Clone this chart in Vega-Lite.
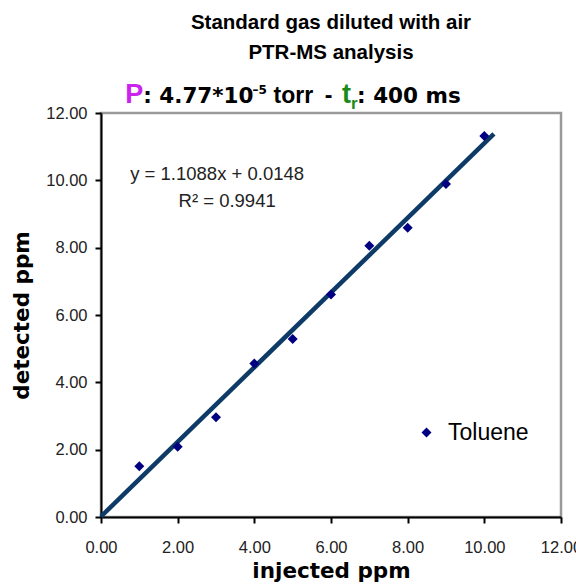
{
  "$schema": "https://vega.github.io/schema/vega-lite/v6.json",
  "autosize": {"type": "none"},
  "width": 460,
  "height": 404,
  "padding": {"left": 101, "top": 113, "right": 15, "bottom": 67},
  "background": "white",
  "title": {
    "text": ["Standard gas diluted with air", "PTR-MS analysis"],
    "font": "Liberation Sans",
    "fontSize": 20.5,
    "fontWeight": "bold",
    "color": "#000000",
    "anchor": "middle",
    "lineHeight": 30,
    "offset": 17
  },
  "config": {
    "view": {"stroke": "#999999", "strokeWidth": 2.5},
    "font": "Liberation Sans",
    "axis": {
      "grid": false,
      "domainColor": "#000000",
      "domainWidth": 2,
      "tickColor": "#000000",
      "tickWidth": 2,
      "tickSize": 6,
      "labelFont": "Liberation Sans",
      "labelFontSize": 16.5,
      "labelColor": "#222222",
      "labelFlush": false,
      "titleFont": "DejaVu Sans",
      "titleFontSize": 21.5,
      "titleFontWeight": "bold",
      "titleColor": "#000000"
    }
  },
  "layer": [
    {
      "data": {"values": [{"injected": 0, "detected": 0.0148}, {"injected": 10.25, "detected": 11.38}]},
      "mark": {"type": "line", "color": "#0d3a66", "strokeWidth": 4.5, "clip": false},
      "encoding": {
        "x": {"field": "injected", "type": "quantitative"},
        "y": {"field": "detected", "type": "quantitative"}
      }
    },
    {
      "data": {"values": [
        {"injected": 1, "detected": 1.51, "series": "Toluene"},
        {"injected": 2, "detected": 2.09, "series": "Toluene"},
        {"injected": 3, "detected": 2.96, "series": "Toluene"},
        {"injected": 4, "detected": 4.56, "series": "Toluene"},
        {"injected": 5, "detected": 5.29, "series": "Toluene"},
        {"injected": 6, "detected": 6.61, "series": "Toluene"},
        {"injected": 7, "detected": 8.06, "series": "Toluene"},
        {"injected": 8, "detected": 8.59, "series": "Toluene"},
        {"injected": 9, "detected": 9.89, "series": "Toluene"},
        {"injected": 10, "detected": 11.32, "series": "Toluene"}
      ]},
      "mark": {"type": "point", "shape": "diamond", "filled": true, "size": 100, "opacity": 1},
      "encoding": {
        "x": {
          "field": "injected", "type": "quantitative",
          "scale": {"domain": [0, 12], "nice": false},
          "axis": {"values": [0, 2, 4, 6, 8, 10, 12], "format": ".2f", "title": "injected ppm", "labelPadding": 16, "titlePadding": 5}
        },
        "y": {
          "field": "detected", "type": "quantitative",
          "scale": {"domain": [0, 12], "nice": false},
          "axis": {"values": [0, 2, 4, 6, 8, 10, 12], "format": ".2f", "title": "detected ppm", "labelPadding": 8, "titlePadding": 12}
        },
        "color": {
          "field": "series", "type": "nominal",
          "scale": {"range": ["#000080"]},
          "legend": {
            "title": null,
            "orient": "none",
            "legendX": 314,
            "legendY": 308,
            "padding": 0,
            "symbolType": "diamond",
            "symbolSize": 100,
            "labelFont": "Liberation Sans",
            "labelFontSize": 23,
            "labelColor": "#000000",
            "labelOffset": 10
          }
        }
      }
    },
    {
      "data": {"values": [
        {"x": 3.03, "y": 10.0, "label": "y = 1.1088x + 0.0148"},
        {"x": 3.29, "y": 9.2, "label": "R² = 0.9941"}
      ]},
      "mark": {"type": "text", "font": "Liberation Sans", "fontSize": 18.5, "color": "#222222", "align": "center", "baseline": "alphabetic"},
      "encoding": {
        "x": {"field": "x", "type": "quantitative"},
        "y": {"field": "y", "type": "quantitative"},
        "text": {"field": "label"}
      }
    },
    {
      "data": {"values": [{"x": 0.63, "y": 12.3, "label": "P"}]},
      "mark": {"type": "text", "font": "Liberation Sans", "fontSize": 27, "fontWeight": "bold", "color": "#cc22ee", "align": "left", "baseline": "alphabetic", "clip": false},
      "encoding": {
        "x": {"field": "x", "type": "quantitative"},
        "y": {"field": "y", "type": "quantitative"},
        "text": {"field": "label"}
      }
    },
    {
      "data": {"values": [
        {"x": 1.1, "y": 12.3, "label": ": 4.77*10"},
        {"x": 6.68, "y": 12.3, "label": ": 400 ms"}
      ]},
      "mark": {"type": "text", "font": "DejaVu Sans", "fontSize": 21.5, "fontWeight": "bold", "color": "#000000", "align": "left", "baseline": "alphabetic", "clip": false},
      "encoding": {
        "x": {"field": "x", "type": "quantitative"},
        "y": {"field": "y", "type": "quantitative"},
        "text": {"field": "label"}
      }
    },
    {
      "data": {"values": [
        {"x": 4.5, "y": 12.3, "label": "torr"},
        {"x": 5.84, "y": 12.3, "label": "-"}
      ]},
      "mark": {"type": "text", "font": "Liberation Sans", "fontSize": 23, "fontWeight": "bold", "color": "#000000", "align": "left", "baseline": "alphabetic", "clip": false},
      "encoding": {
        "x": {"field": "x", "type": "quantitative"},
        "y": {"field": "y", "type": "quantitative"},
        "text": {"field": "label"}
      }
    },
    {
      "data": {"values": [{"x": 3.95, "y": 12.55, "label": "–5"}]},
      "mark": {"type": "text", "font": "DejaVu Sans", "fontSize": 12, "fontWeight": "bold", "color": "#000000", "align": "left", "baseline": "alphabetic", "clip": false},
      "encoding": {
        "x": {"field": "x", "type": "quantitative"},
        "y": {"field": "y", "type": "quantitative"},
        "text": {"field": "label"}
      }
    },
    {
      "data": {"values": [{"x": 6.29, "y": 12.3, "label": "t"}]},
      "mark": {"type": "text", "font": "Liberation Sans", "fontSize": 27, "fontWeight": "bold", "color": "#1a8a1a", "align": "left", "baseline": "alphabetic", "clip": false},
      "encoding": {
        "x": {"field": "x", "type": "quantitative"},
        "y": {"field": "y", "type": "quantitative"},
        "text": {"field": "label"}
      }
    },
    {
      "data": {"values": [{"x": 6.52, "y": 12.13, "label": "r"}]},
      "mark": {"type": "text", "font": "Liberation Sans", "fontSize": 17, "fontWeight": "bold", "color": "#1a8a1a", "align": "left", "baseline": "alphabetic", "clip": false},
      "encoding": {
        "x": {"field": "x", "type": "quantitative"},
        "y": {"field": "y", "type": "quantitative"},
        "text": {"field": "label"}
      }
    }
  ]
}
